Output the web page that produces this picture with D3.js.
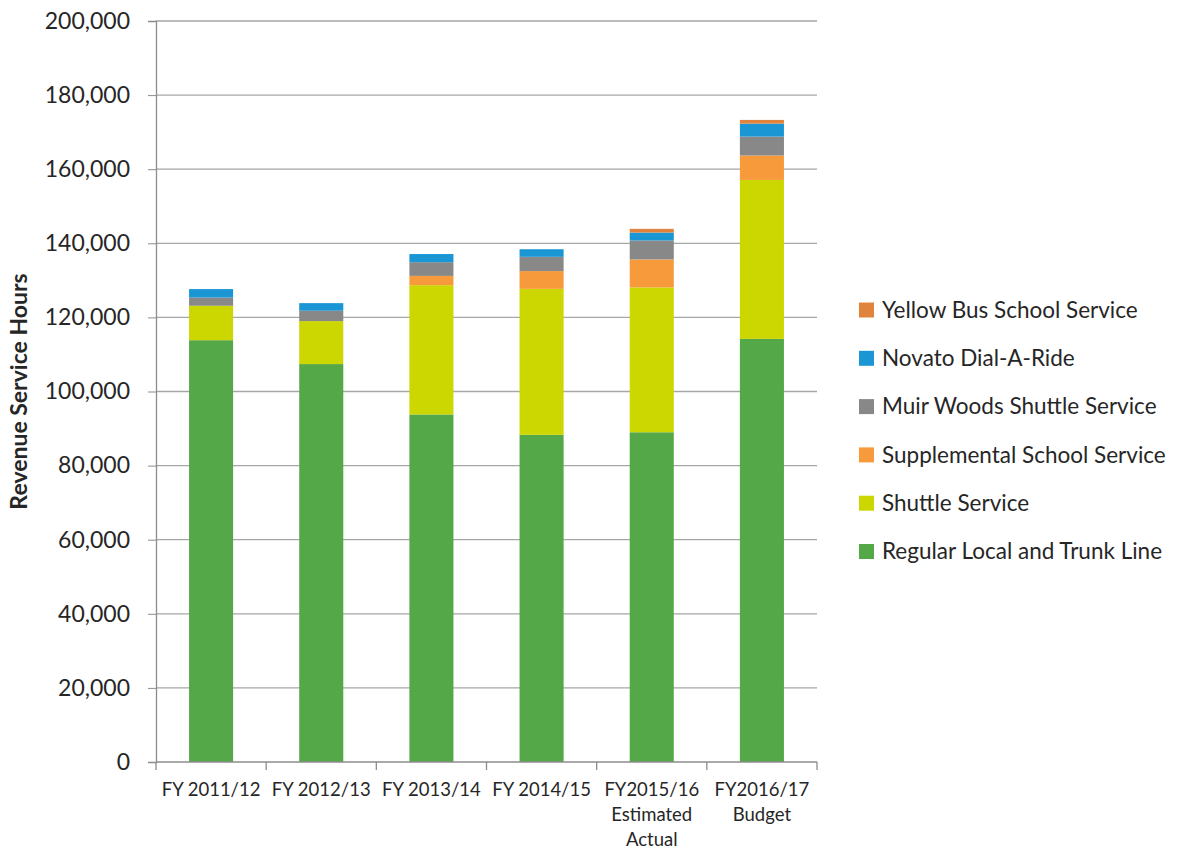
<!DOCTYPE html>
<html>
<head>
<meta charset="utf-8">
<script src="https://cdn.jsdelivr.net/npm/d3@7"></script>
<style>
  body { margin: 0; background: #fff; }
  svg text { font-family: Lato, "Open Sans", sans-serif; fill: #262626; }
</style>
</head>
<body>
<svg id="chart" width="1200" height="850"></svg>
<script>
// fiscal years along the x axis (multi-line labels)
const years = ["FY 2011/12", "FY 2012/13", "FY 2013/14", "FY 2014/15", "FY2015/16|Estimated|Actual", "FY2016/17|Budget"];

// series, bottom to top of each stack
const seriesNames = ["Regular Local and Trunk Line", "Shuttle Service", "Supplemental School Service",
                     "Muir Woods Shuttle Service", "Novato Dial-A-Ride", "Yellow Bus School Service"];
const regular      = [113850, 107400, 93800, 88300, 89000, 114200];
const shuttle      = [9300, 11600, 34900, 39400, 39100, 42900];
const supplemental = [0, 0, 2500, 4800, 7550, 6600];
const muirWoods    = [2200, 2800, 3700, 3850, 5100, 5100];
const novato       = [2300, 2050, 2200, 2050, 2150, 3500];
const yellowBus    = [0, 0, 0, 0, 1000, 1000];

const colors = ["#54a848", "#ccd600", "#f79a3b", "#888888", "#1a96d4", "#e0843d"];
const yTicks = [0, 20000, 40000, 60000, 80000, 100000, 120000, 140000, 160000, 180000, 200000];

const seriesVals = [regular, shuttle, supplemental, muirWoods, novato, yellowBus];
const rows = years.map((y, i) => {
    let r = { year: y };
    seriesNames.forEach((s, j) => r[s] = seriesVals[j][i]);
    return r;
});

const plotLeft = 156, plotRight = 817, plotTop = 21, plotBottom = 762;
const svg = d3.select('#chart');

let x = d3.scaleBand().domain(years).range([plotLeft, plotRight]).paddingInner(0.6).paddingOuter(0.3);
let y = d3.scaleLinear().domain([0, 200000]).range([plotBottom, plotTop]);
let color = d3.scaleOrdinal().domain(seriesNames).range(colors);

// gridlines
svg.append('g')
   .selectAll('line')
   .data(yTicks.slice(1))
   .enter().append('line')
   .attr('x1', plotLeft).attr('x2', plotRight)
   .attr('y1', d => y(d)).attr('y2', d => y(d))
   .attr('stroke', '#a6a6a6').attr('stroke-width', 1.3);

// stacked bars
let stacked = d3.stack().keys(seriesNames)(rows);
svg.append('g')
   .selectAll('g')
   .data(stacked)
   .enter().append('g')
   .attr('fill', d => color(d.key))
   .selectAll('rect')
   .data(d => d)
   .enter().append('rect')
   .attr('x', d => x(d.data.year))
   .attr('width', x.bandwidth())
   .attr('y', d => y(d[1]))
   .attr('height', d => y(d[0]) - y(d[1]));

// y axis
let yAxis = svg.append('g')
   .attr('transform', `translate(${plotLeft},0)`)
   .call(d3.axisLeft(y).tickValues(yTicks).tickFormat(d3.format(',')).tickSize(8).tickPadding(18));
yAxis.select('.domain').attr('stroke', '#8c8c8c').attr('stroke-width', 1.3);
yAxis.selectAll('.tick line').attr('stroke', '#8c8c8c');
yAxis.selectAll('text').style('font-size', '23px').attr('fill', '#262626');

// x axis: ticks at category boundaries
svg.append('line')
   .attr('x1', plotLeft).attr('x2', plotRight).attr('y1', plotBottom).attr('y2', plotBottom)
   .attr('stroke', '#8c8c8c').attr('stroke-width', 1.3);
let step = x.step();
svg.append('g')
   .selectAll('line')
   .data(d3.range(years.length + 1))
   .enter().append('line')
   .attr('x1', i => plotLeft + i * step).attr('x2', i => plotLeft + i * step)
   .attr('y1', plotBottom).attr('y2', plotBottom + 8)
   .attr('stroke', '#8c8c8c').attr('stroke-width', 1.3);

svg.append('g')
   .selectAll('text')
   .data(years)
   .enter().append('text')
   .attr('text-anchor', 'middle')
   .attr('x', d => x(d) + x.bandwidth() / 2)
   .attr('y', 796)
   .style('font-size', '18.5px')
   .each(function (d) {
       d.split('|').forEach((line, k) => {
           d3.select(this).append('tspan')
             .attr('x', x(d) + x.bandwidth() / 2)
             .attr('dy', k === 0 ? 0 : 25)
             .text(line);
       });
   });

// y axis title
svg.append('text')
   .attr('transform', `translate(27,${(plotTop + plotBottom) / 2}) rotate(-90)`)
   .attr('text-anchor', 'middle')
   .style('font-size', '23px')
   .style('font-weight', 'bold')
   .attr('fill', '#000')
   .text('Revenue Service Hours');

// legend, top entry is the last series
let legend = svg.append('g')
   .selectAll('g')
   .data(seriesNames.slice().reverse())
   .enter().append('g')
   .attr('transform', (d, i) => `translate(859,${310 + i * 48.3})`);
legend.append('rect')
   .attr('x', 0).attr('y', -7.5).attr('width', 15).attr('height', 15)
   .attr('fill', d => color(d));
legend.append('text')
   .attr('x', 23).attr('y', 0).attr('dy', '0.35em')
   .style('font-size', '22.5px')
   .text(d => d);
</script>
</body>
</html>
